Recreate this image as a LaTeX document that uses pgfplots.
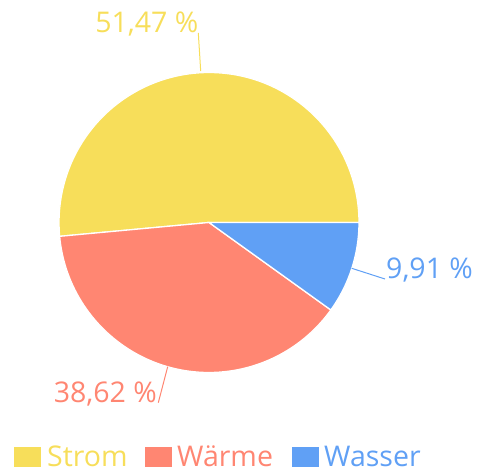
\documentclass[border=0pt]{standalone}
\usepackage{pgfplots}
\usepackage{pgfplotstable}
\pgfplotsset{compat=1.18}
\usepackage{fontspec}
\setmainfont{Open Sans}

\definecolor{strom}{HTML}{F7DE5A}
\definecolor{waerme}{HTML}{FF8672}
\definecolor{wasser}{HTML}{60A0F5}

\pgfplotstableread{
part value
Strom 51.47
Waerme 38.62
Wasser 9.91
}\piedata

\pgfplotstablegetelem{0}{value}\of\piedata \let\vA\pgfplotsretval
\pgfplotstablegetelem{1}{value}\of\piedata \let\vB\pgfplotsretval
\pgfplotstablegetelem{2}{value}\of\piedata \let\vC\pgfplotsretval
\pgfmathsetmacro{\aA}{3.6*\vA}
\pgfmathsetmacro{\aB}{\aA+3.6*\vB}

\pgfkeys{/pgf/number format/.cd,fixed,fixed zerofill,precision=2,use comma,assume math mode=true}
\newcommand{\pct}[1]{\pgfmathprintnumber{#1}~\%}

\begin{document}
\begin{tikzpicture}[lbl/.style={inner sep=0pt, font=\fontsize{28.5}{32}\selectfont}]
\begin{axis}[
    scale only axis,
    width=477pt, height=471pt,
    xmin=0, xmax=477, ymin=0, ymax=471,
    hide axis, clip=false,
]
% keep the whole canvas as bounding box
\path (axis cs:0,0) rectangle (axis cs:477,471);
% slices
\filldraw[fill=strom, draw=white, line width=1.3pt]
  (axis cs:209,248.5) -- ++(0:150pt) arc[start angle=0, end angle=\aA, radius=150pt] -- cycle;
\filldraw[fill=waerme, draw=white, line width=1.3pt]
  (axis cs:209,248.5) -- ++(\aA:150pt) arc[start angle=\aA, end angle=\aB, radius=150pt] -- cycle;
\filldraw[fill=wasser, draw=white, line width=1.3pt]
  (axis cs:209,248.5) -- ++(\aB:150pt) arc[start angle=\aB, end angle=360, radius=150pt] -- cycle;

% labels with leader lines
\draw[strom, line width=1pt] (axis cs:200.7,400) -- (axis cs:198.3,438);
\node[strom, lbl, anchor=base east] at (axis cs:198.5,438) {\pct{\vA}};
\draw[wasser, line width=1pt] (axis cs:351.7,202.7) -- (axis cs:385,192);
\node[wasser, lbl, anchor=base west] at (axis cs:386,192) {\pct{\vC}};
\draw[waerme, line width=1pt] (axis cs:167.7,104.3) -- (axis cs:158.3,68.3);
\node[waerme, lbl, anchor=base east] at (axis cs:157,68.3) {\pct{\vB}};

% legend
\fill[strom] (axis cs:14,4) rectangle (axis cs:41,24);
\node[strom, lbl, anchor=base west] at (axis cs:47,4) {Strom};
\fill[waerme] (axis cs:145,4) rectangle (axis cs:172,24);
\node[waerme, lbl, anchor=base west] at (axis cs:177,4) {Wärme};
\fill[wasser] (axis cs:292,4) rectangle (axis cs:319,24);
\node[wasser, lbl, anchor=base west] at (axis cs:324,4) {Wasser};
\end{axis}
\end{tikzpicture}
\end{document}
